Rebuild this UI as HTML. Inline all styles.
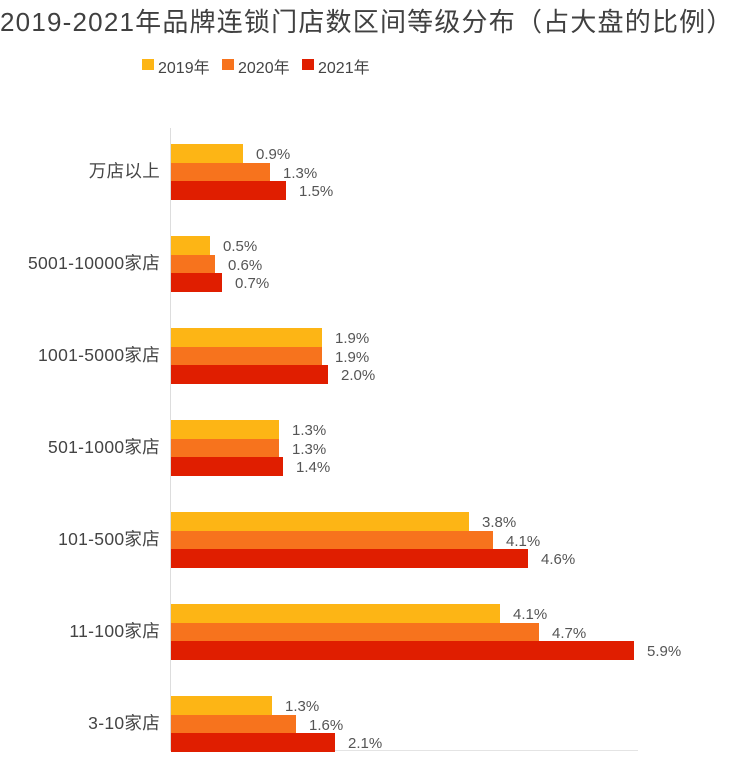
<!DOCTYPE html>
<html><head><meta charset="utf-8"><style>
body{margin:0;width:732px;height:758px;background:#fff;position:relative;overflow:hidden;font-family:"Liberation Sans","Noto Sans CJK SC",sans-serif;}
.t{position:absolute;white-space:nowrap;}
.b{position:absolute;left:171px;height:19px;}
.y{background:#FDB515}.o{background:#F7731D}.r{background:#E01E00}
.v{position:absolute;font-size:15px;color:#555;line-height:19px;}
.c{position:absolute;right:572px;font-size:17.5px;color:#444;text-align:right;line-height:20px;white-space:nowrap;letter-spacing:0.3px;}
</style></head><body>
<div class="t" style="left:0;top:2px;width:732px;text-align:center;font-size:26px;color:#404040;letter-spacing:1.2px;">2019-2021年品牌连锁门店数区间等级分布（占大盘的比例）</div>
<div style="position:absolute;left:142px;top:59px;width:12px;height:11px" class="y"></div>
<div class="t" style="left:158px;top:54px;font-size:16px;color:#444">2019年</div>
<div style="position:absolute;left:222px;top:59px;width:12px;height:11px" class="o"></div>
<div class="t" style="left:238px;top:54px;font-size:16px;color:#444">2020年</div>
<div style="position:absolute;left:302px;top:59px;width:12px;height:11px" class="r"></div>
<div class="t" style="left:318px;top:54px;font-size:16px;color:#444">2021年</div>
<div style="position:absolute;left:170px;top:128px;width:1px;height:623px;background:#ddd"></div>
<div style="position:absolute;left:170px;top:750px;width:468px;height:1px;background:#e4e4e4"></div>
<div id="g"></div>
<script>
var d=[["万店以上",[.9,1.3,1.5],[243,270,286]],["5001-10000家店",[.5,.6,.7],[210,215,222]],["1001-5000家店",[1.9,1.9,2.0],[322,322,328]],["501-1000家店",[1.3,1.3,1.4],[279,279,283]],["101-500家店",[3.8,4.1,4.6],[469,493,528]],["11-100家店",[4.1,4.7,5.9],[500,539,634]],["3-10家店",[1.3,1.6,2.1],[272,296,335]]];
var h="",cl=["y","o","r"];
d.forEach(function(r,i){var top=144+i*92;
h+='<div class="c" style="top:'+(top+17)+'px">'+r[0]+'</div>';
for(var k=0;k<3;k++){var e=r[2][k],w=e-171;var y=top+k*18.5;
h+='<div class="b '+cl[k]+'" style="top:'+y+'px;width:'+w+'px"></div>';
h+='<div class="v" style="left:'+(e+13)+'px;top:'+(y+1)+'px">'+r[1][k].toFixed(1)+'%</div>';}
});
document.getElementById("g").innerHTML=h;
</script>
</body></html>
